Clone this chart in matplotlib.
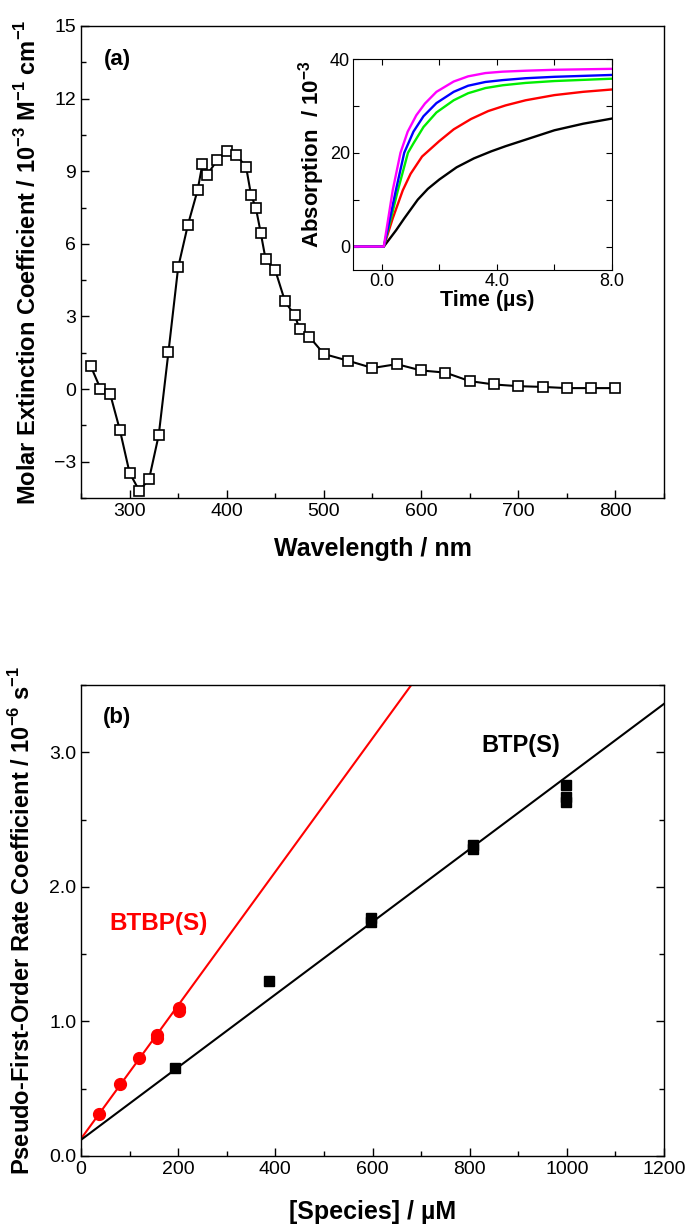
import numpy as np
import matplotlib
matplotlib.use("Agg")
import matplotlib.pyplot as plt
from matplotlib.ticker import MultipleLocator, FormatStrFormatter

plt.rcParams['font.family'] = ['Liberation Sans', 'DejaVu Sans']
plt.rcParams['mathtext.fontset'] = 'custom'
plt.rcParams['mathtext.rm'] = 'Liberation Sans'
plt.rcParams['mathtext.bf'] = 'Liberation Sans:bold'

# ---- panel (a): molar extinction spectrum ----
wavelength = [260, 270, 280, 290, 300, 310, 320, 330, 340, 350, 360, 370, 375, 380,
              390, 400, 410, 420, 425, 430, 435, 440, 450, 460, 470, 475, 485, 500,
              525, 550, 575, 600, 625, 650, 675, 700, 725, 750, 775, 800]
extinction = [0.95, 0.02, -0.2, -1.69, -3.46, -4.2, -3.73, -1.9, 1.53, 5.03, 6.78, 8.22,
              9.3, 8.86, 9.45, 9.83, 9.68, 9.16, 8.02, 7.48, 6.45, 5.36, 4.9, 3.62,
              3.04, 2.48, 2.16, 1.45, 1.17, 0.87, 1.03, 0.77, 0.68, 0.33, 0.19, 0.12,
              0.09, 0.04, 0.04, 0.04]

# ---- inset: absorption traces ----
t_magenta = [-1.0, 0.07, 0.2, 0.38, 0.65, 0.9, 1.2, 1.5, 1.9, 2.5, 3.0, 3.6, 4.2, 5.0, 6.0, 8.0]
a_magenta = [0, 0, 5.0, 12.0, 20.0, 24.5, 28.0, 30.5, 33.0, 35.2, 36.3, 37.0, 37.3, 37.5, 37.7, 37.9]
t_blue = [-1.0, 0.07, 0.25, 0.49, 0.78, 1.1, 1.45, 1.9, 2.5, 3.0, 3.6, 4.2, 5.0, 6.0, 8.0]
a_blue = [0, 0, 5.0, 12.0, 20.0, 24.5, 27.8, 30.6, 33.0, 34.3, 35.1, 35.5, 35.9, 36.2, 36.6]
t_green = [-1.0, 0.07, 0.3, 0.56, 0.91, 1.1, 1.45, 1.9, 2.5, 3.0, 3.6, 4.2, 5.0, 6.0, 8.0]
a_green = [0, 0, 5.5, 12.0, 20.0, 22.0, 25.5, 28.6, 31.2, 32.7, 33.8, 34.4, 34.9, 35.3, 35.8]
t_red = [-1.0, 0.07, 0.38, 0.73, 1.0, 1.4, 2.0, 2.5, 3.1, 3.7, 4.3, 5.0, 6.0, 7.0, 8.0]
a_red = [0, 0, 6.0, 12.0, 15.5, 19.2, 22.5, 25.0, 27.2, 28.9, 30.1, 31.2, 32.3, 33.0, 33.5]
t_black = [-1.0, 0.07, 0.5, 0.78, 1.25, 1.6, 2.0, 2.6, 3.2, 3.8, 4.3, 5.0, 6.0, 7.0, 8.0]
a_black = [0, 0, 3.5, 6.0, 10.0, 12.3, 14.3, 16.9, 18.8, 20.3, 21.4, 22.8, 24.8, 26.2, 27.3]

# ---- panel (b): rate coefficients ----
btp_conc = [194, 386, 596, 596, 806, 806, 999, 999, 999]
btp_k = [0.657, 1.30, 1.74, 1.77, 2.28, 2.31, 2.76, 2.67, 2.63]
btbp_conc = [38, 80, 119, 157, 157, 202, 202]
btbp_k = [0.309, 0.537, 0.726, 0.902, 0.88, 1.10, 1.075]
# fitted lines (intercept, slope) as drawn in the figure
btp_fit = (0.12, 0.0027)
btbp_fit = (0.128, 0.00496)

W, H = 690, 1228
fig = plt.figure(figsize=(W / 100, H / 100), dpi=100)


def box(l, t, r, b):
    return [l / W, 1 - b / H, (r - l) / W, (b - t) / H]


def style(ax, right=False, top=False, lw=1.0, size=14):
    for s in ax.spines.values():
        s.set_linewidth(lw)
    ax.tick_params(which='both', direction='in', right=right, top=top, labelsize=size, width=lw)
    ax.tick_params(which='major', length=6)
    ax.tick_params(which='minor', length=3.5)


ax1 = fig.add_axes(box(81, 26, 664, 498))
ax1.plot(wavelength, extinction, color='black', lw=1.5, marker='s', ms=7,
         mfc='white', mec='black', mew=1.2)
ax1.set_xlim(250, 850)
ax1.set_ylim(-4.5, 15)
ax1.set_xticks([300, 400, 500, 600, 700, 800])
ax1.xaxis.set_minor_locator(MultipleLocator(50))
ax1.yaxis.set_major_locator(MultipleLocator(3))
ax1.yaxis.set_minor_locator(MultipleLocator(1.5))
style(ax1)
ax1.set_xlabel('Wavelength / nm', fontsize=18, fontweight='bold')
ax1.xaxis.set_label_coords(0.5, -0.083)
ax1.set_ylabel(r'Molar Extinction Coefficient / 10$^{\mathbf{-3}}$ M$^{\mathbf{-1}}$ cm$^{\mathbf{-1}}$',
               fontsize=17, fontweight='bold')
ax1.yaxis.set_label_coords(-0.068, 0.5)
ax1.text(288, 13.6, '(a)', fontsize=16, fontweight='bold', ha='center', va='center')

axi = fig.add_axes(box(353, 59, 612, 270))
for tt, aa, c in [(t_black, a_black, 'black'), (t_red, a_red, '#ff0000'),
                  (t_green, a_green, '#00ee00'), (t_blue, a_blue, '#0000ff'),
                  (t_magenta, a_magenta, '#ff00ff')]:
    axi.plot(tt, aa, color=c, lw=1.7)
axi.set_xlim(-1, 8)
axi.set_ylim(-5, 40)
axi.xaxis.set_major_locator(MultipleLocator(4))
axi.xaxis.set_minor_locator(MultipleLocator(2))
axi.xaxis.set_major_formatter(FormatStrFormatter('%.1f'))
axi.yaxis.set_major_locator(MultipleLocator(20))
axi.yaxis.set_minor_locator(MultipleLocator(10))
style(axi, right=True, top=True, lw=0.8, size=13)
axi.tick_params(which='both', length=4, pad=2)
axi.set_xlabel('Time (µs)', fontsize=15.5, fontweight='bold')
axi.xaxis.set_label_coords(0.519, -0.095)
axi.set_ylabel(r'Absorption  / 10$^{\mathbf{-3}}$', fontsize=16, fontweight='bold')
axi.yaxis.set_label_coords(-0.1, 0.55)

ax2 = fig.add_axes(box(81, 685, 664, 1156))
xfit = np.array([0, 1200])
ax2.plot(xfit, btbp_fit[0] + btbp_fit[1] * xfit, color='#ff0000', lw=1.5)
ax2.plot(xfit, btp_fit[0] + btp_fit[1] * xfit, color='black', lw=1.5)
ax2.plot(btbp_conc, btbp_k, 'o', color='#ff0000', ms=8.5)
ax2.plot(btp_conc, btp_k, 's', color='black', ms=7.5)
ax2.set_xlim(0, 1200)
ax2.set_ylim(0, 3.5)
ax2.xaxis.set_major_locator(MultipleLocator(200))
ax2.xaxis.set_minor_locator(MultipleLocator(100))
ax2.yaxis.set_major_locator(MultipleLocator(1))
ax2.yaxis.set_minor_locator(MultipleLocator(0.5))
ax2.yaxis.set_major_formatter(FormatStrFormatter('%.1f'))
style(ax2, right=True)
ax2.set_xlabel('[Species] / µM', fontsize=18, fontweight='bold')
ax2.xaxis.set_label_coords(0.5, -0.093)
ax2.set_ylabel(r'Pseudo-First-Order Rate Coefficient / 10$^{\mathbf{-6}}$ s$^{\mathbf{-1}}$',
               fontsize=17, fontweight='bold')
ax2.yaxis.set_label_coords(-0.079, 0.5)
ax2.text(74, 3.26, '(b)', fontsize=16, fontweight='bold', ha='center', va='center')
ax2.text(906, 3.05, 'BTP(S)', fontsize=17, fontweight='bold', ha='center', va='center')
ax2.text(160, 1.73, 'BTBP(S)', fontsize=17.5, fontweight='bold', ha='center', va='center',
         color='#ff0000')

fig.savefig('out.png', dpi=100)
